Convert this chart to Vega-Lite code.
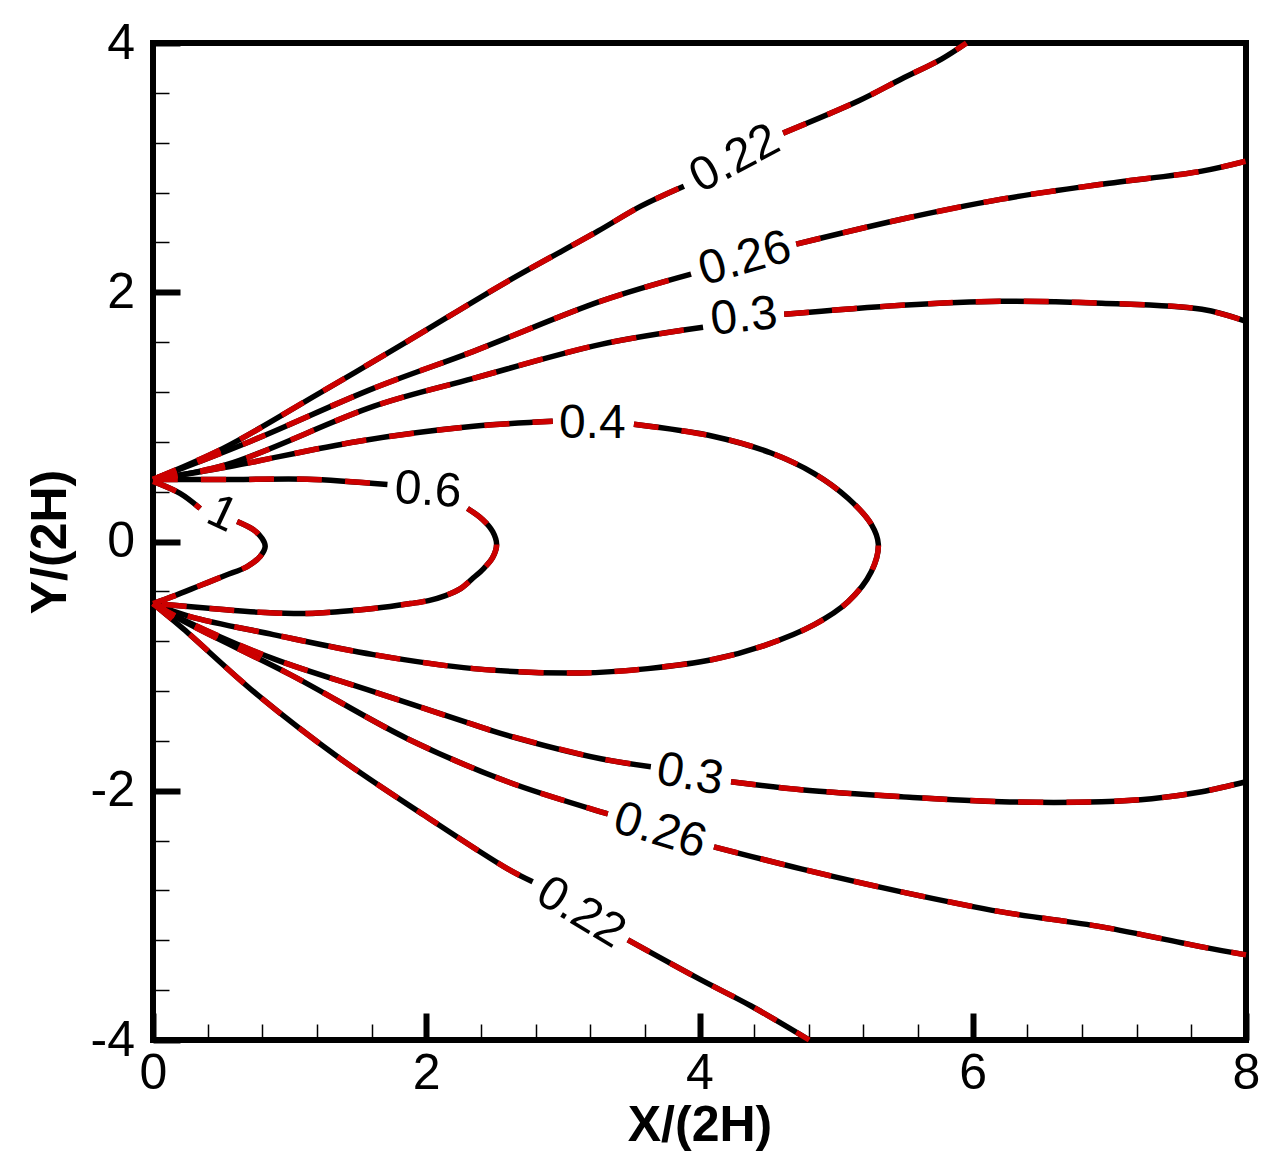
{
  "$schema": "https://vega.github.io/schema/vega-lite/v6.json",
  "width": 1093,
  "height": 997,
  "autosize": {"type": "none"},
  "padding": {"left": 153, "top": 43, "right": 32, "bottom": 128},
  "background": "white",
  "config": {
    "view": {"stroke": "black", "strokeWidth": 6},
    "font": "Liberation Sans"
  },
  "datasets": {
    "lines": [
      {"s": "0.22u-a", "i": 0, "x": 0, "y": 0.498},
      {"s": "0.22u-a", "i": 1, "x": 0.513, "y": 0.747},
      {"s": "0.22u-a", "i": 2, "x": 1.203, "y": 1.181},
      {"s": "0.22u-a", "i": 3, "x": 1.862, "y": 1.606},
      {"s": "0.22u-a", "i": 4, "x": 2.596, "y": 2.088},
      {"s": "0.22u-a", "i": 5, "x": 3.256, "y": 2.49},
      {"s": "0.22u-a", "i": 6, "x": 3.571, "y": 2.691},
      {"s": "0.22u-a", "i": 7, "x": 3.886, "y": 2.851},
      {"s": "0.22u-b", "i": 0, "x": 4.612, "y": 3.277},
      {"s": "0.22u-b", "i": 1, "x": 5.162, "y": 3.534},
      {"s": "0.22u-b", "i": 2, "x": 5.478, "y": 3.711},
      {"s": "0.22u-b", "i": 3, "x": 5.771, "y": 3.871},
      {"s": "0.22u-b", "i": 4, "x": 5.954, "y": 4.0},
      {"s": "0.26u-a", "i": 0, "x": 0, "y": 0.498},
      {"s": "0.26u-a", "i": 1, "x": 0.711, "y": 0.803},
      {"s": "0.26u-a", "i": 2, "x": 1.613, "y": 1.229},
      {"s": "0.26u-a", "i": 3, "x": 2.346, "y": 1.526},
      {"s": "0.26u-a", "i": 4, "x": 3.278, "y": 1.928},
      {"s": "0.26u-a", "i": 5, "x": 3.938, "y": 2.145},
      {"s": "0.26u-b", "i": 0, "x": 4.708, "y": 2.386},
      {"s": "0.26u-b", "i": 1, "x": 5.478, "y": 2.586},
      {"s": "0.26u-b", "i": 2, "x": 6.211, "y": 2.747},
      {"s": "0.26u-b", "i": 3, "x": 6.944, "y": 2.867},
      {"s": "0.26u-b", "i": 4, "x": 7.677, "y": 2.972},
      {"s": "0.26u-b", "i": 5, "x": 8.0, "y": 3.052},
      {"s": "0.3u-a", "i": 0, "x": 0, "y": 0.498},
      {"s": "0.3u-a", "i": 1, "x": 0.543, "y": 0.618},
      {"s": "0.3u-a", "i": 2, "x": 1.613, "y": 1.084},
      {"s": "0.3u-a", "i": 3, "x": 2.346, "y": 1.309},
      {"s": "0.3u-a", "i": 4, "x": 3.278, "y": 1.582},
      {"s": "0.3u-a", "i": 5, "x": 4.026, "y": 1.719},
      {"s": "0.3u-b", "i": 0, "x": 4.62, "y": 1.823},
      {"s": "0.3u-b", "i": 1, "x": 5.478, "y": 1.896},
      {"s": "0.3u-b", "i": 2, "x": 6.211, "y": 1.928},
      {"s": "0.3u-b", "i": 3, "x": 6.944, "y": 1.912},
      {"s": "0.3u-b", "i": 4, "x": 7.677, "y": 1.863},
      {"s": "0.3u-b", "i": 5, "x": 8.0, "y": 1.767},
      {"s": "0.4-a", "i": 0, "x": 0, "y": 0.498},
      {"s": "0.4-a", "i": 1, "x": 0.565, "y": 0.602},
      {"s": "0.4-a", "i": 2, "x": 1.496, "y": 0.803},
      {"s": "0.4-a", "i": 3, "x": 2.346, "y": 0.924},
      {"s": "0.4-a", "i": 4, "x": 2.926, "y": 0.964},
      {"s": "0.4-b", "i": 0, "x": 3.52, "y": 0.94},
      {"s": "0.4-b", "i": 1, "x": 4.106, "y": 0.843},
      {"s": "0.4-b", "i": 2, "x": 4.524, "y": 0.71},
      {"s": "0.4-b", "i": 3, "x": 4.84, "y": 0.545},
      {"s": "0.4-b", "i": 4, "x": 5.089, "y": 0.345},
      {"s": "0.4-b", "i": 5, "x": 5.258, "y": 0.137},
      {"s": "0.4-b", "i": 6, "x": 5.309, "y": -0.024},
      {"s": "0.4-b", "i": 7, "x": 5.258, "y": -0.241},
      {"s": "0.4-b", "i": 8, "x": 5.089, "y": -0.482},
      {"s": "0.4-b", "i": 9, "x": 4.84, "y": -0.667},
      {"s": "0.4-b", "i": 10, "x": 4.473, "y": -0.835},
      {"s": "0.4-b", "i": 11, "x": 4.106, "y": -0.945},
      {"s": "0.4-b", "i": 12, "x": 3.622, "y": -1.02},
      {"s": "0.4-b", "i": 13, "x": 3.131, "y": -1.055},
      {"s": "0.4-b", "i": 14, "x": 2.346, "y": -1.02},
      {"s": "0.4-b", "i": 15, "x": 1.613, "y": -0.908},
      {"s": "0.4-b", "i": 16, "x": 0.88, "y": -0.747},
      {"s": "0.4-b", "i": 17, "x": 0.271, "y": -0.602},
      {"s": "0.4-b", "i": 18, "x": 0, "y": -0.498},
      {"s": "0.6-a", "i": 0, "x": 0, "y": 0.498},
      {"s": "0.6-a", "i": 1, "x": 0.638, "y": 0.498},
      {"s": "0.6-a", "i": 2, "x": 1.129, "y": 0.5},
      {"s": "0.6-a", "i": 3, "x": 1.716, "y": 0.458},
      {"s": "0.6-b", "i": 0, "x": 2.302, "y": 0.265},
      {"s": "0.6-b", "i": 1, "x": 2.412, "y": 0.177},
      {"s": "0.6-b", "i": 2, "x": 2.486, "y": 0.08},
      {"s": "0.6-b", "i": 3, "x": 2.515, "y": -0.024},
      {"s": "0.6-b", "i": 4, "x": 2.486, "y": -0.129},
      {"s": "0.6-b", "i": 5, "x": 2.42, "y": -0.217},
      {"s": "0.6-b", "i": 6, "x": 2.339, "y": -0.297},
      {"s": "0.6-b", "i": 7, "x": 2.251, "y": -0.378},
      {"s": "0.6-b", "i": 8, "x": 2.141, "y": -0.434},
      {"s": "0.6-b", "i": 9, "x": 2.017, "y": -0.474},
      {"s": "0.6-b", "i": 10, "x": 1.884, "y": -0.498},
      {"s": "0.6-b", "i": 11, "x": 1.613, "y": -0.538},
      {"s": "0.6-b", "i": 12, "x": 1.371, "y": -0.562},
      {"s": "0.6-b", "i": 13, "x": 1.129, "y": -0.578},
      {"s": "0.6-b", "i": 14, "x": 0.821, "y": -0.57},
      {"s": "0.6-b", "i": 15, "x": 0.513, "y": -0.546},
      {"s": "0.6-b", "i": 16, "x": 0.257, "y": -0.522},
      {"s": "0.6-b", "i": 17, "x": 0, "y": -0.498},
      {"s": "1-a", "i": 0, "x": 0, "y": 0.482},
      {"s": "1-a", "i": 1, "x": 0.198, "y": 0.386},
      {"s": "1-a", "i": 2, "x": 0.345, "y": 0.265},
      {"s": "1-b", "i": 0, "x": 0.616, "y": 0.161},
      {"s": "1-b", "i": 1, "x": 0.733, "y": 0.096},
      {"s": "1-b", "i": 2, "x": 0.799, "y": 0.024},
      {"s": "1-b", "i": 3, "x": 0.821, "y": -0.04},
      {"s": "1-b", "i": 4, "x": 0.784, "y": -0.12},
      {"s": "1-b", "i": 5, "x": 0.689, "y": -0.201},
      {"s": "1-b", "i": 6, "x": 0.528, "y": -0.273},
      {"s": "1-b", "i": 7, "x": 0.345, "y": -0.353},
      {"s": "1-b", "i": 8, "x": 0.161, "y": -0.434},
      {"s": "1-b", "i": 9, "x": 0, "y": -0.498},
      {"s": "0.3l-a", "i": 0, "x": 0, "y": -0.498},
      {"s": "0.3l-a", "i": 1, "x": 0.22, "y": -0.627},
      {"s": "0.3l-a", "i": 2, "x": 0.88, "y": -0.94},
      {"s": "0.3l-a", "i": 3, "x": 1.613, "y": -1.205},
      {"s": "0.3l-a", "i": 4, "x": 2.346, "y": -1.47},
      {"s": "0.3l-a", "i": 5, "x": 2.544, "y": -1.54},
      {"s": "0.3l-a", "i": 6, "x": 3.278, "y": -1.743},
      {"s": "0.3l-a", "i": 7, "x": 3.644, "y": -1.807},
      {"s": "0.3l-b", "i": 0, "x": 4.231, "y": -1.928},
      {"s": "0.3l-b", "i": 1, "x": 4.744, "y": -1.992},
      {"s": "0.3l-b", "i": 2, "x": 5.478, "y": -2.048},
      {"s": "0.3l-b", "i": 3, "x": 6.211, "y": -2.088},
      {"s": "0.3l-b", "i": 4, "x": 6.944, "y": -2.088},
      {"s": "0.3l-b", "i": 5, "x": 7.311, "y": -2.064},
      {"s": "0.3l-b", "i": 6, "x": 7.677, "y": -2.008},
      {"s": "0.3l-b", "i": 7, "x": 8.0, "y": -1.928},
      {"s": "0.26l-a", "i": 0, "x": 0, "y": -0.498},
      {"s": "0.26l-a", "i": 1, "x": 0.271, "y": -0.667},
      {"s": "0.26l-a", "i": 2, "x": 1.005, "y": -1.068},
      {"s": "0.26l-a", "i": 3, "x": 1.862, "y": -1.582},
      {"s": "0.26l-a", "i": 4, "x": 2.596, "y": -1.928},
      {"s": "0.26l-a", "i": 5, "x": 3.278, "y": -2.169},
      {"s": "0.26l-a", "i": 6, "x": 3.329, "y": -2.185},
      {"s": "0.26l-b", "i": 0, "x": 4.106, "y": -2.45},
      {"s": "0.26l-b", "i": 1, "x": 4.744, "y": -2.627},
      {"s": "0.26l-b", "i": 2, "x": 5.478, "y": -2.811},
      {"s": "0.26l-b", "i": 3, "x": 6.211, "y": -2.972},
      {"s": "0.26l-b", "i": 4, "x": 6.944, "y": -3.092},
      {"s": "0.26l-b", "i": 5, "x": 7.677, "y": -3.253},
      {"s": "0.26l-b", "i": 6, "x": 8.0, "y": -3.317},
      {"s": "0.22l-a", "i": 0, "x": 0, "y": -0.498},
      {"s": "0.22l-a", "i": 1, "x": 0.22, "y": -0.699},
      {"s": "0.22l-a", "i": 2, "x": 0.763, "y": -1.229},
      {"s": "0.22l-a", "i": 3, "x": 1.371, "y": -1.743},
      {"s": "0.22l-a", "i": 4, "x": 1.98, "y": -2.193},
      {"s": "0.22l-a", "i": 5, "x": 2.596, "y": -2.627},
      {"s": "0.22l-a", "i": 6, "x": 2.779, "y": -2.731},
      {"s": "0.22l-b", "i": 0, "x": 3.476, "y": -3.197},
      {"s": "0.22l-b", "i": 1, "x": 4.011, "y": -3.518},
      {"s": "0.22l-b", "i": 2, "x": 4.378, "y": -3.727},
      {"s": "0.22l-b", "i": 3, "x": 4.803, "y": -4.0}
    ],
    "labels": [
      {"t": "0.22", "x": 4.26, "y": 3.068, "a": -28},
      {"t": "0.26", "x": 4.334, "y": 2.265, "a": -16},
      {"t": "0.3", "x": 4.326, "y": 1.799, "a": -6},
      {"t": "0.4", "x": 3.215, "y": 0.94, "a": 0},
      {"t": "0.6", "x": 2.013, "y": 0.406, "a": 4},
      {"t": "1", "x": 0.506, "y": 0.217, "a": 25},
      {"t": "0.3", "x": 3.93, "y": -1.876, "a": 10},
      {"t": "0.26", "x": 3.71, "y": -2.325, "a": 17},
      {"t": "0.22", "x": 3.131, "y": -2.98, "a": 31}
    ]
  },
  "resolve": {"axis": {"x": "independent", "y": "independent"}},
  "layer": [
    {
      "data": {"name": "lines"},
      "mark": {"type": "line", "color": "black", "strokeWidth": 5.5, "interpolate": "catmull-rom", "strokeCap": "butt"},
      "encoding": {
        "x": {"field": "x", "type": "quantitative", "scale": {"domain": [0, 8], "nice": false, "zero": false},
          "axis": {"orient": "bottom", "values": [0, 2, 4, 6, 8], "labelExpr": "'' + datum.value", "domain": false, "grid": false,
            "tickSize": -27, "tickWidth": 6, "tickColor": "black", "labelPadding": 35.5, "labelFontSize": 50, "labelColor": "black",
            "labelFont": "Liberation Sans", "labelFlush": false, "labelOverlap": false,
            "title": "X/(2H)", "titleFont": "Liberation Sans", "titleFontSize": 50, "titleFontWeight": "bold", "titleColor": "black",
            "titleY": 100, "titleBaseline": "alphabetic"}},
        "y": {"field": "y", "type": "quantitative", "scale": {"domain": [-4, 4], "nice": false, "zero": false},
          "axis": {"orient": "left", "values": [-4, -2, 0, 2, 4], "labelExpr": "'' + datum.value", "domain": false, "grid": false,
            "tickSize": -27, "tickWidth": 6, "tickColor": "black", "labelPadding": 45.5, "labelFontSize": 50, "labelColor": "black",
            "labelFont": "Liberation Sans", "labelFlush": false, "labelOverlap": false,
            "title": "Y/(2H)", "titleFont": "Liberation Sans", "titleFontSize": 50, "titleFontWeight": "bold", "titleColor": "black",
            "titleAngle": -90, "titleX": -88, "titleY": 498.5, "titleBaseline": "alphabetic", "titleAlign": "center"}},
        "detail": {"field": "s", "type": "nominal"},
        "order": {"field": "i", "type": "quantitative"}
      }
    },
    {
      "data": {"name": "lines"},
      "mark": {"type": "line", "color": "#cc0000", "strokeWidth": 5.5, "strokeDash": [25, 23], "interpolate": "catmull-rom", "strokeCap": "butt"},
      "encoding": {
        "x": {"field": "x", "type": "quantitative",
          "axis": {"orient": "bottom", "values": [0.4, 0.8, 1.2, 1.6, 2.4, 2.8, 3.2, 3.6, 4.4, 4.8, 5.2, 5.6, 6.4, 6.8, 7.2, 7.6],
            "labels": false, "domain": false, "grid": false, "tickSize": -16, "tickWidth": 1.5, "tickColor": "black", "title": null}},
        "y": {"field": "y", "type": "quantitative",
          "axis": {"orient": "left", "values": [-3.6, -3.2, -2.8, -2.4, -1.6, -1.2, -0.8, -0.4, 0.4, 0.8, 1.2, 1.6, 2.4, 2.8, 3.2, 3.6],
            "labels": false, "domain": false, "grid": false, "tickSize": -16, "tickWidth": 1.5, "tickColor": "black", "title": null}},
        "detail": {"field": "s", "type": "nominal"},
        "order": {"field": "i", "type": "quantitative"}
      }
    },
    {
      "data": {"name": "labels"},
      "mark": {"type": "text", "font": "Liberation Sans", "fontSize": 48, "color": "black", "align": "center", "baseline": "middle"},
      "encoding": {
        "x": {"field": "x", "type": "quantitative", "axis": null},
        "y": {"field": "y", "type": "quantitative", "axis": null},
        "text": {"field": "t", "type": "nominal"},
        "angle": {"field": "a", "type": "quantitative", "scale": null}
      }
    }
  ]
}
